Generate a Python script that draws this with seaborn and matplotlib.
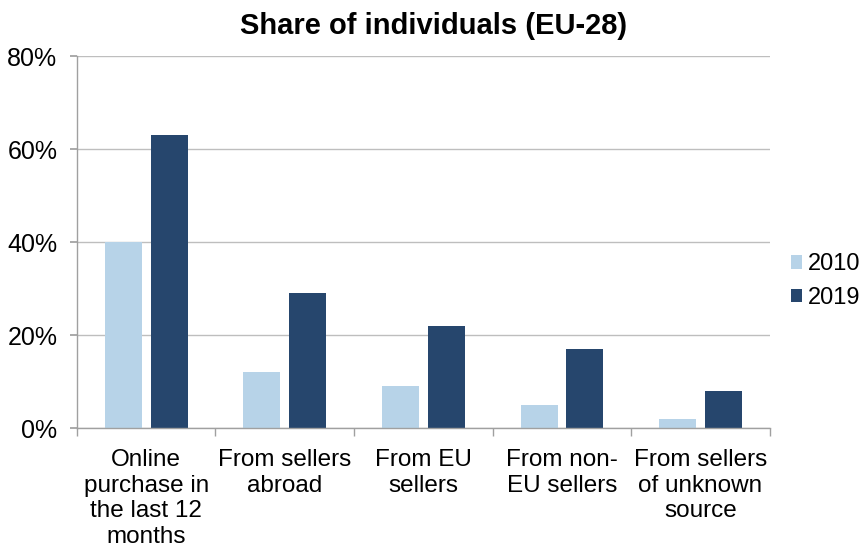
import matplotlib
matplotlib.use("Agg")
import matplotlib.pyplot as plt
from matplotlib.ticker import PercentFormatter, FixedLocator
import seaborn as sns
import pandas as pd

categories = [
    "Online\npurchase in\nthe last 12\nmonths",
    "From sellers\nabroad",
    "From EU\nsellers",
    "From non-\nEU sellers",
    "From sellers\nof unknown\nsource",
]
share_2010 = [40, 12, 9, 5, 2]
share_2019 = [63, 29, 22, 17, 8]
years = ["2010", "2019"]
colors = ["#B7D3E8", "#26466D"]

df = pd.DataFrame({
    "category": categories * 2,
    "year": [years[0]] * len(categories) + [years[1]] * len(categories),
    "share": share_2010 + share_2019,
})

sns.set_theme(style="white")
plt.rcParams["font.family"] = ["Liberation Sans", "DejaVu Sans"]
plt.rcParams["text.color"] = "black"

fig = plt.figure(figsize=(8.64, 5.51), dpi=100)
ax = fig.add_axes([0.089, 0.223, 0.802, 0.675])

sns.barplot(data=df, x="category", y="share", hue="year", palette=colors,
            width=0.66, gap=0.19, ax=ax, saturation=1, legend=True,
            linewidth=0)

ax.set_ylim(0, 80)
ax.set_xlim(-0.5, len(categories) - 0.5)
ax.yaxis.set_major_locator(FixedLocator([0, 20, 40, 60, 80]))
ax.yaxis.set_major_formatter(PercentFormatter(decimals=0))
ax.grid(axis="y", color="#BEBEBE", linewidth=1)
ax.set_axisbelow(True)

for side in ["top", "right"]:
    ax.spines[side].set_visible(False)
for side in ["left", "bottom"]:
    ax.spines[side].set_color("#A0A0A0")
    ax.spines[side].set_linewidth(1)

ax.tick_params(axis="y", which="major", left=True, length=5, color="#A0A0A0",
               labelsize=18, pad=9, labelcolor="black")
ax.tick_params(axis="x", which="major", bottom=False, labelsize=17.5, pad=9,
               labelcolor="black")
ax.set_xticks([i + 0.5 for i in range(-1, len(categories))], minor=True)
ax.tick_params(axis="x", which="minor", bottom=True, length=6, color="#A0A0A0")
for lbl in ax.get_xticklabels():
    lbl.set_linespacing(1.22)

ax.set_xlabel("")
ax.set_ylabel("")
ax.set_title("Share of individuals (EU-28)", fontsize=21, fontweight="bold",
             pad=16, x=0.515, color="black")

ax.legend(loc="center left", bbox_to_anchor=(1.03, 0.395), frameon=False,
          fontsize=17, handlelength=0.5, handleheight=0.5, handletextpad=0.25,
          labelspacing=0.5, borderaxespad=0, borderpad=0)

fig.savefig("out.png", dpi=100)
